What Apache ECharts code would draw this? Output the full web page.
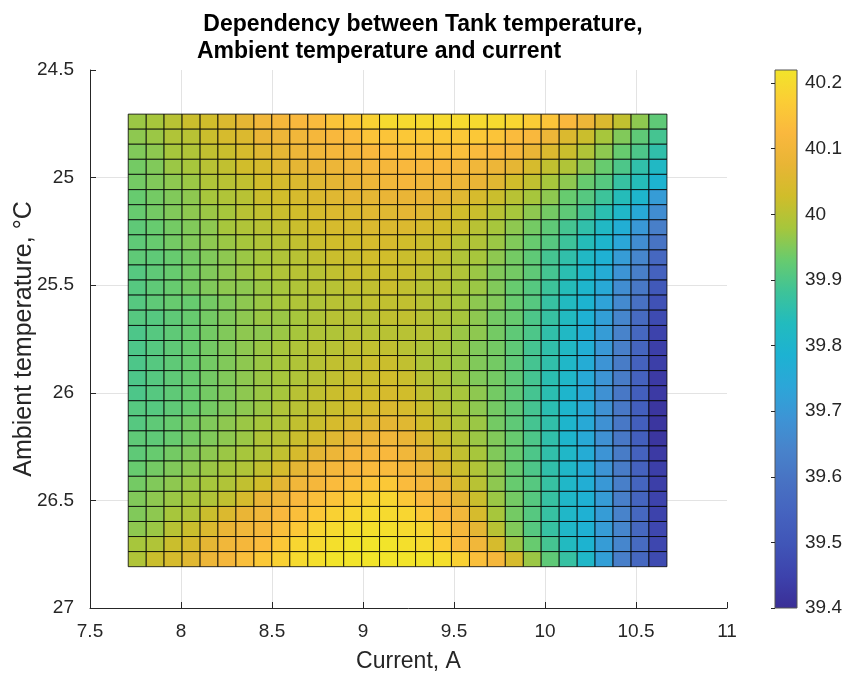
<!DOCTYPE html>
<html>
<head>
<meta charset="utf-8">
<title>Dependency between Tank temperature</title>
<script src="https://cdn.jsdelivr.net/npm/echarts@6/dist/echarts.min.js"></script>
<style>
  html, body { margin: 0; padding: 0; background: #fff; }
  #chart { width: 846px; height: 675px; }
</style>
</head>
<body>
<div id="chart"></div>
<script>
// cell edges along the current axis, A
var currentEdges = [7.710, 7.809, 7.907, 8.006, 8.105, 8.203, 8.302, 8.401, 8.499, 8.598,
  8.697, 8.795, 8.894, 8.993, 9.091, 9.190, 9.289, 9.387, 9.486, 9.585,
  9.683, 9.782, 9.881, 9.979, 10.078, 10.177, 10.275, 10.374, 10.473, 10.571, 10.670];
// cell edges along the ambient temperature axis, °C
var ambientEdges = [24.705, 24.775, 24.845, 24.915, 24.985, 25.056, 25.126, 25.196, 25.266, 25.336,
  25.406, 25.476, 25.546, 25.616, 25.687, 25.757, 25.827, 25.897, 25.967, 26.037,
  26.107, 26.177, 26.247, 26.317, 26.388, 26.458, 26.528, 26.598, 26.668, 26.738, 26.808];
// tank temperature, one row per ambient step (top row first), one value per current step
var tankTemp = [
  [39.97,39.98,40.00,40.02,40.03,40.05,40.07,40.10,40.11,40.12,40.13,40.15,40.16,40.18,40.20,40.20,40.20,40.20,40.20,40.20,40.20,40.19,40.17,40.15,40.12,40.09,40.05,40.01,39.96,39.92],
  [39.96,39.97,39.99,40.00,40.02,40.04,40.05,40.08,40.09,40.10,40.11,40.12,40.13,40.15,40.15,40.16,40.16,40.16,40.16,40.16,40.15,40.13,40.12,40.09,40.05,40.02,39.98,39.95,39.92,39.89],
  [39.95,39.96,39.98,39.99,40.01,40.02,40.04,40.06,40.07,40.09,40.10,40.11,40.11,40.12,40.13,40.14,40.14,40.14,40.14,40.13,40.12,40.11,40.08,40.05,40.02,39.99,39.96,39.93,39.90,39.86],
  [39.94,39.95,39.97,39.98,40.00,40.01,40.03,40.04,40.06,40.07,40.08,40.09,40.10,40.11,40.11,40.12,40.12,40.12,40.11,40.10,40.09,40.07,40.04,40.01,39.99,39.96,39.93,39.90,39.86,39.82],
  [39.94,39.95,39.96,39.97,39.99,40.00,40.01,40.03,40.04,40.05,40.06,40.07,40.08,40.09,40.10,40.11,40.10,40.10,40.09,40.08,40.06,40.03,40.01,39.98,39.96,39.93,39.91,39.87,39.84,39.79],
  [39.93,39.94,39.95,39.96,39.98,39.99,40.00,40.02,40.03,40.04,40.05,40.06,40.07,40.07,40.08,40.08,40.08,40.07,40.06,40.04,40.02,40.00,39.98,39.96,39.93,39.91,39.88,39.84,39.80,39.71],
  [39.93,39.94,39.95,39.96,39.97,39.98,40.00,40.01,40.02,40.03,40.04,40.05,40.05,40.06,40.06,40.07,40.06,40.05,40.03,40.02,40.00,39.98,39.96,39.94,39.92,39.89,39.85,39.81,39.75,39.67],
  [39.92,39.93,39.94,39.95,39.96,39.98,39.99,40.00,40.01,40.02,40.03,40.04,40.04,40.05,40.05,40.05,40.04,40.03,40.02,40.00,39.98,39.96,39.94,39.92,39.89,39.86,39.82,39.77,39.70,39.63],
  [39.92,39.93,39.94,39.95,39.96,39.97,39.98,39.99,40.00,40.01,40.02,40.03,40.03,40.04,40.04,40.03,40.02,40.02,40.00,39.99,39.97,39.95,39.93,39.91,39.88,39.84,39.80,39.74,39.67,39.60],
  [39.92,39.92,39.93,39.94,39.95,39.96,39.97,39.98,39.99,40.00,40.01,40.02,40.02,40.03,40.03,40.02,40.02,40.01,39.99,39.98,39.96,39.94,39.92,39.89,39.86,39.82,39.78,39.71,39.65,39.56],
  [39.91,39.92,39.93,39.94,39.95,39.96,39.97,39.98,39.99,40.00,40.00,40.01,40.02,40.02,40.02,40.02,40.01,40.00,39.99,39.97,39.95,39.94,39.92,39.89,39.85,39.81,39.76,39.69,39.63,39.54],
  [39.91,39.92,39.93,39.94,39.95,39.96,39.96,39.97,39.98,39.99,40.00,40.00,40.01,40.01,40.02,40.01,40.00,40.00,39.98,39.97,39.95,39.93,39.91,39.88,39.84,39.80,39.75,39.67,39.61,39.51],
  [39.91,39.92,39.93,39.93,39.94,39.95,39.96,39.97,39.98,39.99,39.99,40.00,40.00,40.01,40.01,40.01,40.00,39.99,39.98,39.96,39.95,39.93,39.91,39.87,39.83,39.79,39.73,39.66,39.59,39.49],
  [39.91,39.91,39.92,39.93,39.94,39.95,39.96,39.97,39.97,39.98,39.99,40.00,40.00,40.00,40.01,40.01,40.00,39.99,39.98,39.96,39.94,39.93,39.90,39.87,39.83,39.78,39.72,39.65,39.57,39.47],
  [39.90,39.91,39.92,39.93,39.94,39.95,39.96,39.96,39.97,39.98,39.99,39.99,40.00,40.00,40.00,40.00,40.00,39.99,39.97,39.96,39.94,39.92,39.90,39.86,39.82,39.77,39.71,39.64,39.56,39.45],
  [39.90,39.91,39.92,39.93,39.94,39.95,39.96,39.97,39.98,39.99,40.00,40.00,40.01,40.01,40.01,40.00,39.99,39.98,39.97,39.95,39.94,39.92,39.89,39.86,39.82,39.77,39.70,39.63,39.55,39.44],
  [39.90,39.91,39.92,39.93,39.94,39.95,39.96,39.97,39.98,39.99,40.00,40.01,40.01,40.02,40.02,40.01,39.99,39.98,39.97,39.95,39.94,39.92,39.89,39.86,39.81,39.76,39.69,39.62,39.54,39.44],
  [39.90,39.91,39.92,39.93,39.94,39.95,39.96,39.97,39.98,39.99,40.00,40.01,40.02,40.02,40.03,40.02,40.00,39.99,39.97,39.95,39.94,39.92,39.89,39.85,39.81,39.75,39.69,39.62,39.54,39.43],
  [39.90,39.91,39.92,39.93,39.94,39.95,39.96,39.97,39.98,40.00,40.01,40.02,40.03,40.03,40.04,40.03,40.01,39.99,39.98,39.96,39.94,39.92,39.89,39.85,39.80,39.75,39.68,39.61,39.53,39.43],
  [39.91,39.91,39.92,39.93,39.94,39.95,39.96,39.97,39.99,40.00,40.01,40.02,40.03,40.04,40.05,40.04,40.02,40.00,39.98,39.96,39.94,39.92,39.89,39.85,39.80,39.75,39.68,39.61,39.53,39.42],
  [39.91,39.92,39.93,39.94,39.95,39.96,39.97,39.98,39.99,40.01,40.02,40.04,40.05,40.06,40.07,40.06,40.03,40.01,39.99,39.97,39.94,39.92,39.89,39.86,39.80,39.75,39.68,39.61,39.53,39.42],
  [39.92,39.92,39.93,39.94,39.95,39.96,39.97,39.99,40.00,40.02,40.04,40.06,40.08,40.09,40.10,40.08,40.05,40.02,40.00,39.97,39.95,39.93,39.90,39.86,39.80,39.75,39.68,39.61,39.53,39.42],
  [39.92,39.93,39.94,39.95,39.96,39.97,39.98,39.99,40.01,40.04,40.07,40.09,40.11,40.11,40.12,40.10,40.07,40.04,40.01,39.98,39.95,39.93,39.90,39.86,39.81,39.76,39.69,39.62,39.54,39.43],
  [39.93,39.94,39.95,39.96,39.97,39.98,39.99,40.01,40.04,40.07,40.10,40.11,40.12,40.13,40.13,40.11,40.09,40.05,40.02,39.99,39.96,39.93,39.90,39.86,39.81,39.76,39.69,39.62,39.54,39.44],
  [39.94,39.95,39.96,39.97,39.98,39.99,40.01,40.03,40.07,40.10,40.11,40.13,40.14,40.15,40.16,40.13,40.11,40.09,40.04,40.00,39.96,39.93,39.91,39.87,39.81,39.77,39.70,39.63,39.55,39.44],
  [39.95,39.96,39.97,39.98,39.99,40.01,40.04,40.08,40.10,40.12,40.14,40.15,40.17,40.18,40.19,40.16,40.13,40.11,40.07,40.02,39.97,39.94,39.91,39.87,39.81,39.78,39.71,39.63,39.55,39.45],
  [39.95,39.96,39.98,39.99,40.02,40.05,40.08,40.10,40.12,40.14,40.16,40.18,40.19,40.20,40.20,40.19,40.16,40.12,40.10,40.04,39.98,39.94,39.91,39.87,39.81,39.78,39.71,39.64,39.56,39.45],
  [39.96,39.97,40.00,40.02,40.05,40.08,40.10,40.11,40.14,40.16,40.19,40.20,40.21,40.21,40.21,40.20,40.19,40.15,40.11,40.07,40.00,39.95,39.91,39.87,39.81,39.78,39.71,39.65,39.56,39.46],
  [39.98,39.99,40.02,40.04,40.07,40.10,40.11,40.13,40.16,40.19,40.20,40.21,40.22,40.22,40.22,40.21,40.20,40.17,40.13,40.10,40.04,39.97,39.93,39.89,39.83,39.79,39.71,39.65,39.57,39.46],
  [39.99,40.02,40.04,40.06,40.09,40.11,40.14,40.16,40.18,40.20,40.21,40.22,40.22,40.22,40.22,40.22,40.22,40.21,40.18,40.14,40.11,40.04,39.97,39.92,39.87,39.81,39.72,39.63,39.56,39.47]
];
var colorLimits = [39.4, 40.22];

// parula-like colours, evenly spaced between the colour limits
var parula = ['#3a2e96', '#3d42ac', '#4055b7', '#4563bf', '#4872c3', '#4883cb', '#3d94d5', '#2ca6d8', '#1db2d2',
  '#22bbbe', '#3ec398', '#68cb6e', '#a6c63c', '#d0bd2a', '#e8b535', '#fab83e', '#fbcd35', '#f2e42a'];

var cells = [];
for (var r = 0; r < tankTemp.length; r++) {
  for (var c = 0; c < tankTemp[r].length; c++) {
    cells.push([currentEdges[c], currentEdges[c + 1], ambientEdges[r], ambientEdges[r + 1], tankTemp[r][c]]);
  }
}

var textColor = '#262626';
var fontFamily = '"Liberation Sans", Arial, Helvetica, sans-serif';

var chart = echarts.init(document.getElementById('chart'));
var option = {
  animation: false,
  backgroundColor: '#fff',
  textStyle: { fontFamily: fontFamily },
  title: [
    {
      text: 'Dependency between Tank temperature,',
      left: 418, top: 8, textAlign: 'center',
      textStyle: { fontSize: 23, fontWeight: 'bold', color: '#000', fontFamily: fontFamily }
    },
    {
      text: 'Ambient temperature and current',
      left: 197, top: 40, padding: 0,
      textStyle: { fontSize: 23, fontWeight: 'bold', color: '#000', fontFamily: fontFamily }
    }
  ],
  grid: [
    { left: 90, top: 70, width: 637, height: 538, outerBoundsMode: 'none' },
    { left: 775, top: 70, width: 22, height: 538, outerBoundsMode: 'none' }
  ],
  xAxis: [
    {
      type: 'value', gridIndex: 0, min: 7.5, max: 11, interval: 0.5,
      name: 'Current, A', nameLocation: 'middle', nameGap: 42, nameMoveOverlap: false,
      nameTextStyle: { fontSize: 23, color: textColor },
      axisLine: { lineStyle: { color: textColor, width: 1 } },
      axisTick: { inside: true, length: 6, lineStyle: { color: textColor } },
      axisLabel: { fontSize: 19, color: textColor, margin: 14 },
      splitLine: { show: true, showMaxLine: false, lineStyle: { color: '#e3e3e3' } }
    },
    { type: 'value', gridIndex: 1, min: 0, max: 1, show: false }
  ],
  yAxis: [
    {
      type: 'value', gridIndex: 0, min: 24.5, max: 27, interval: 0.5, inverse: true,
      name: 'Ambient temperature, °C', nameLocation: 'middle', nameGap: 53, nameMoveOverlap: false,
      nameTextStyle: { fontSize: 25, color: textColor },
      axisLine: { show: true, lineStyle: { color: textColor, width: 1 } },
      axisTick: { show: true, inside: true, length: 6, lineStyle: { color: textColor } },
      axisLabel: { fontSize: 19, color: textColor, margin: 16 },
      splitLine: { show: true, showMinLine: false, lineStyle: { color: '#e3e3e3' } }
    },
    {
      type: 'value', gridIndex: 1, min: colorLimits[0], max: colorLimits[1], interval: 0.1,
      position: 'right', z: 5,
      axisLine: { show: false },
      axisTick: { show: true, inside: true, length: 4, lineStyle: { color: textColor } },
      axisLabel: { fontSize: 19, color: textColor, margin: 8, showMaxLabel: false },
      splitLine: { show: false }
    }
  ],
  visualMap: {
    type: 'continuous', show: false, seriesIndex: 0, dimension: 4,
    min: colorLimits[0], max: colorLimits[1],
    inRange: { color: parula }
  },
  series: [
    {
      type: 'custom',
      xAxisIndex: 0, yAxisIndex: 0,
      encode: { x: [0, 1], y: [2, 3] },
      renderItem: function (params, api) {
        var p0 = api.coord([api.value(0), api.value(2)]);
        var p1 = api.coord([api.value(1), api.value(3)]);
        return {
          type: 'rect',
          shape: {
            x: Math.min(p0[0], p1[0]), y: Math.min(p0[1], p1[1]),
            width: Math.abs(p1[0] - p0[0]), height: Math.abs(p1[1] - p0[1])
          },
          style: { fill: api.visual('color'), stroke: 'rgba(0,0,0,0.8)', lineWidth: 1 }
        };
      },
      data: cells
    },
    {
      // colour bar
      type: 'custom',
      xAxisIndex: 1, yAxisIndex: 1,
      silent: true, z: 1,
      renderItem: function (params, api) {
        var p0 = api.coord([0, colorLimits[0]]);
        var p1 = api.coord([1, colorLimits[1]]);
        var stops = parula.map(function (col, i) {
          return { offset: i / (parula.length - 1), color: col };
        });
        return {
          type: 'rect',
          shape: { x: p0[0], y: p1[1], width: p1[0] - p0[0], height: p0[1] - p1[1] },
          style: {
            fill: new echarts.graphic.LinearGradient(0, 1, 0, 0, stops),
            stroke: '#555', lineWidth: 1
          }
        };
      },
      data: [[0]]
    }
  ]
};
chart.setOption(option);
</script>
</body>
</html>
